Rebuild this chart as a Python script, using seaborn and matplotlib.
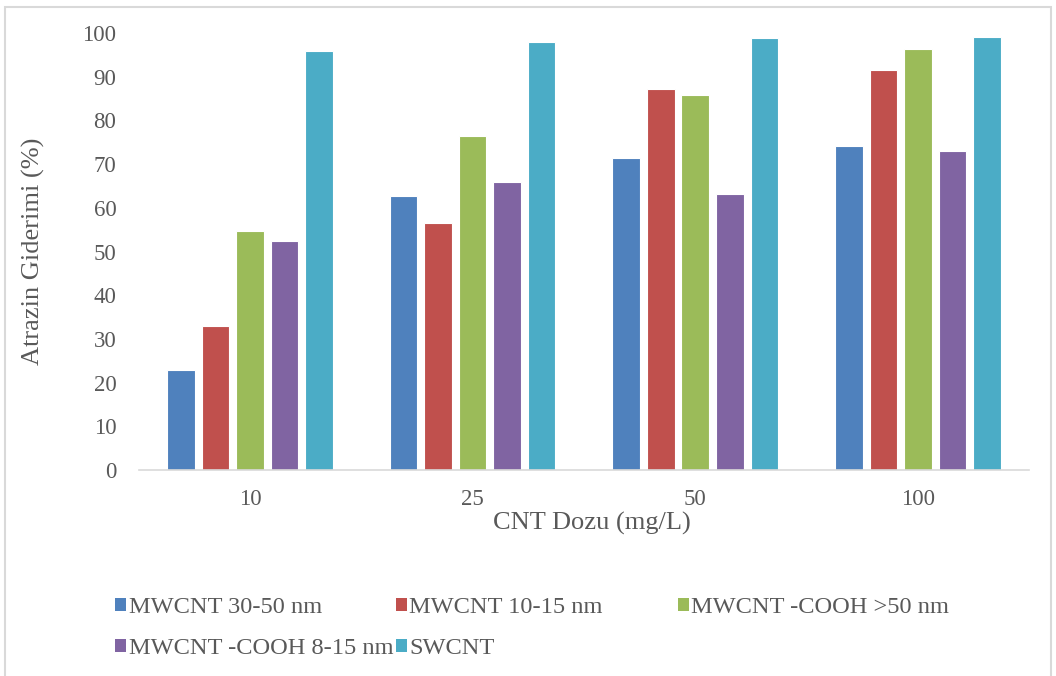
import matplotlib
matplotlib.use("Agg")
import matplotlib.pyplot as plt
import matplotlib.patches as mpatches
import seaborn as sns
import pandas as pd

doses = ["10", "25", "50", "100"]
series = ["MWCNT 30-50 nm", "MWCNT 10-15 nm", "MWCNT -COOH >50 nm",
          "MWCNT -COOH 8-15 nm", "SWCNT"]
mwcnt_30_50 = [22.9, 62.8, 71.4, 74.2]
mwcnt_10_15 = [33.0, 56.6, 87.2, 91.6]
mwcnt_cooh_50 = [54.6, 76.5, 85.7, 96.3]
mwcnt_cooh_8_15 = [52.4, 66.0, 63.1, 72.9]
swcnt = [95.8, 98.0, 98.9, 99.0]
colors = ["#4F81BD", "#C0504D", "#9BBB59", "#8064A2", "#4BACC6"]

values = [mwcnt_30_50, mwcnt_10_15, mwcnt_cooh_50, mwcnt_cooh_8_15, swcnt]
rows = []
for s, vals in zip(series, values):
    for d, v in zip(doses, vals):
        rows.append({"dose": d, "series": s, "value": v})
df = pd.DataFrame(rows)

sns.set_theme(style="white")
plt.rcParams["font.family"] = ["Liberation Serif", "DejaVu Serif"]
text_color = "#595959"

fig = plt.figure(figsize=(10.56, 6.76), dpi=100)
ax = fig.add_axes([0.1313, 0.3047, 0.8434, 0.6465])

sns.barplot(data=df, x="dose", y="value", hue="series", order=doses,
            hue_order=series, palette=colors, width=0.775, gap=0.2,
            edgecolor="white", linewidth=0.8, saturation=1, ax=ax, legend=False)

ax.set_ylim(0, 100)
ax.set_xlim(-0.5, 3.5)
ax.set_yticks(range(0, 101, 10))
ax.tick_params(axis="both", length=0, labelsize=16.5, colors=text_color)
ax.tick_params(axis="y", pad=16)
ax.tick_params(axis="x", pad=14)
for side in ["top", "right", "left"]:
    ax.spines[side].set_visible(False)
ax.spines["bottom"].set_color("#d9d9d9")
ax.spines["bottom"].set_linewidth(1.2)
ax.grid(False)

ax.set_xlabel("CNT Dozu (mg/L)", fontsize=19, color=text_color, labelpad=1)
ax.xaxis.label.set_x(0.509)
ax.set_ylabel("Atrazin Giderimi (%)", fontsize=19, color=text_color, labelpad=27)

# legend as three columns
cols = [[0, 3], [1, 4], [2]]
xpos = [0.109, 0.375, 0.642]
for idxs, x in zip(cols, xpos):
    handles = [mpatches.Patch(facecolor=colors[i], edgecolor="none") for i in idxs]
    labels = [series[i] for i in idxs]
    leg = fig.legend(handles, labels, loc="upper left", bbox_to_anchor=(x, 0.117),
                     frameon=False, fontsize=17.6, handlelength=0.45, handleheight=0.45,
                     handletextpad=0.1, labelspacing=0.83, borderpad=0, borderaxespad=0)
    for t in leg.get_texts():
        t.set_color(text_color)

# outer chart border
fig.patches.append(mpatches.Rectangle((0.005, -0.01), 0.99, 1.0, transform=fig.transFigure,
                                      fill=False, edgecolor="#d9d9d9", linewidth=1.5))

fig.savefig("out.png", dpi=100, facecolor="white")
